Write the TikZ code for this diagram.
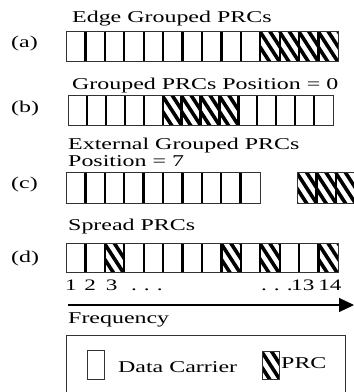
\documentclass[tikz,border=0pt]{standalone}
\usepackage{fontspec}
\setmainfont[FakeStretch=1.45]{Liberation Serif}
\usetikzlibrary{arrows.meta}
\tikzset{
  lbl/.style={font=\fontsize{16.5}{17}\selectfont, inner sep=0pt, anchor=base west},
  numlbl/.style={lbl, font=\fontsize{16}{17}\selectfont},
  cellbox/.style={draw=black!80, line width=0.9pt},
  sepline/.style={line width=2.3pt, black},
  hatchline/.style={line width=3.6pt, black},
}
\newcommand\hatchcell[4]{%
  \begin{scope}
    \clip ({#1},{#2}) rectangle ++({#3},{#4});
    \foreach \k in {-3,...,3} \draw[hatchline] ({#1+\k*10-2},{#2-2}) -- ++({0.65*(#4+4)},{#4+4});
  \end{scope}}
% #1 x0, #2 y0, #3 cell width, #4 height, #5 number of cells
\newcommand\cellseps[5]{%
  \foreach \i in {2,...,#5} \draw[sepline] ({#1+(\i-1)*#3},{#2}) -- ++(0,{#4});
  \draw[cellbox] ({#1},{#2}) rectangle ++({#5*#3},{#4});}
\begin{document}
\begin{tikzpicture}[x=1pt,y=-1pt]
\useasboundingbox (0,0) rectangle (354,392);
\clip (0,0) rectangle (354,392);
\fill[white] (0,0) rectangle (354,392);

% (a)
\node[lbl] (ta) at (72,22) {Edge Grouped PRCs};
\node[lbl] (la) at (11,47) {(a)};
\foreach \i in {11,12,13,14} {\hatchcell{66+(\i-1)*19.43}{31}{19.43}{30}}
\cellseps{66}{31}{19.43}{30}{14}

% (b)
\node[lbl] (tb) at (72,89) {Grouped PRCs Position = 0};
\node[lbl] (lb) at (11,112) {(b)};
\foreach \i in {6,7,8,9} {\hatchcell{68+(\i-1)*18.93}{95}{18.93}{30}}
\cellseps{68}{95}{18.93}{30}{14}

% (c)
\node[lbl] (tc1) at (68,149) {External Grouped PRCs};
\node[lbl] (tc2) at (68,166) {Position = 7};
\node[lbl] (lc) at (11,188) {(c)};
\cellseps{66}{172}{19.4}{31}{10}
\foreach \i in {1,2,3} {\hatchcell{297+(\i-1)*19.4}{172}{19.4}{31}}
\cellseps{297}{172}{19.4}{31}{3}

% (d)
\node[lbl] (td) at (68,230) {Spread PRCs};
\node[lbl] (ld) at (11,262) {(d)};
\foreach \i in {3,9,11,14} {\hatchcell{66+(\i-1)*19.43}{243}{19.43}{29}}
\cellseps{66}{243}{19.43}{29}{14}

% numbering
\node[numlbl] (n123) at (65,290) {1\hspace{7.5pt}2\hspace{10pt}3};
\node[numlbl] (dl) at (131,290) {.\hspace{7pt}.\hspace{7pt}.};
\node[numlbl] (dr) at (261,290) {.\hspace{7pt}.\hspace{7pt}.};
\node[numlbl] (n1314) at (291,290) {13\hspace{4pt}14};

% frequency axis
\coordinate (fs) at (68,305);
\coordinate (fe) at (354,305);
\draw[line width=1.1pt, -{Triangle[length=15pt,width=14pt]}] (fs) -- (fe);
\node[lbl] (freq) at (68,323) {Frequency};

% legend
\draw[cellbox] (66,335) rectangle (345,400);
\draw[cellbox] (87,350) rectangle (104,379);
\node[lbl] (ldc) at (118,372) {Data Carrier};
\hatchcell{262}{351}{17}{28}
\draw[cellbox] (262,351) rectangle (279,379);
\node[lbl] (lprc) at (281,368) {PRC};
\end{tikzpicture}
\end{document}
